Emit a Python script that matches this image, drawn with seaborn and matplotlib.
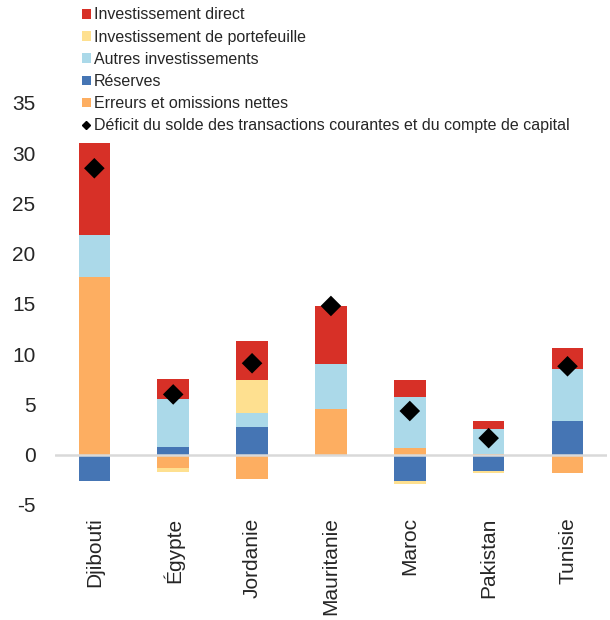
import numpy as np
import pandas as pd
import matplotlib
matplotlib.use("Agg")
import matplotlib.pyplot as plt
import seaborn as sns
from matplotlib.patches import Patch
from matplotlib.lines import Line2D

# Data
countries = ["Djibouti", "Égypte", "Jordanie", "Mauritanie", "Maroc", "Pakistan", "Tunisie"]
erreurs = [17.7, -1.3, -2.4, 4.5, 0.7, 0.1, -1.85]
reserves = [-2.6, 0.75, 2.75, 0.0, -2.65, -1.65, 3.4]
autres = [4.15, 4.75, 1.45, 4.55, 5.0, 2.5, 5.1]
portefeuille = [0.0, -0.4, 3.2, 0.0, -0.3, -0.2, 0.0]
direct = [9.2, 2.0, 3.95, 5.75, 1.7, 0.8, 2.15]
deficit = [28.5, 6.0, 9.1, 14.8, 4.35, 1.65, 8.8]

# stacking order, bottom to top
series = ["Erreurs et omissions nettes", "Réserves", "Autres investissements",
          "Investissement de portefeuille", "Investissement direct"]
values = [erreurs, reserves, autres, portefeuille, direct]
colors = ["#FDAE61", "#4575B4", "#ABD9E9", "#FEE090", "#D73027"]

sns.set_style("white")
plt.rcParams['font.family'] = ['Liberation Sans', 'DejaVu Sans']
plt.rcParams['axes.unicode_minus'] = False

fig = plt.figure(figsize=(6.1, 6.2), dpi=100)
ax = fig.add_axes([0.09, 0.1855, 0.905, 0.6485])

# cumulative positive / negative stacks
vals = np.array(values)
pos = np.cumsum(np.clip(vals, 0, None), axis=0)
neg = np.cumsum(np.clip(vals, None, 0), axis=0)

# draw tallest layers first, lower layers over them
for k in range(len(series) - 1, -1, -1):
    df = pd.DataFrame({"pays": countries, "pos": pos[k], "neg": neg[k]})
    sns.barplot(data=df, x="pays", y="pos", color=colors[k], width=0.4,
                saturation=1, linewidth=0, ax=ax)
    sns.barplot(data=df, x="pays", y="neg", color=colors[k], width=0.4,
                saturation=1, linewidth=0, ax=ax)

ax.axhline(0, color="#D9D9D9", lw=1.8, zorder=3)

df_def = pd.DataFrame({"pays": countries, "deficit": deficit})
sns.scatterplot(data=df_def, x="pays", y="deficit", marker="D", color="black",
                s=110, edgecolor="none", zorder=4, ax=ax)

ax.set_ylim(-5, 35)
ax.set_xlim(-0.5, len(countries) - 0.5)
ax.set_yticks(range(-5, 36, 5))
ax.tick_params(axis="y", labelsize=15, length=0, pad=14)
ax.tick_params(axis="x", labelsize=15, length=0, pad=9, rotation=90)
ax.set_xlabel("")
ax.set_ylabel("")
for s in ax.spines.values():
    s.set_visible(False)

legend_labels = ["Investissement direct", "Investissement de portefeuille",
                 "Autres investissements", "Réserves", "Erreurs et omissions nettes"]
legend_colors = ["#D73027", "#FEE090", "#ABD9E9", "#4575B4", "#FDAE61"]
handles = [Patch(facecolor=c, edgecolor="none", label=l)
           for l, c in zip(legend_labels, legend_colors)]
handles.append(Line2D([], [], marker="D", color="black", ls="none", markersize=4,
                      label="Déficit du solde des transactions courantes et du compte de capital"))
fig.legend(handles=handles, loc="upper left", bbox_to_anchor=(0.134, 0.988),
           frameon=False, fontsize=11.5, handlelength=0.55, handleheight=0.55,
           handletextpad=0.2, labelspacing=0.45, borderpad=0, borderaxespad=0)

fig.savefig("out.png", dpi=100)
